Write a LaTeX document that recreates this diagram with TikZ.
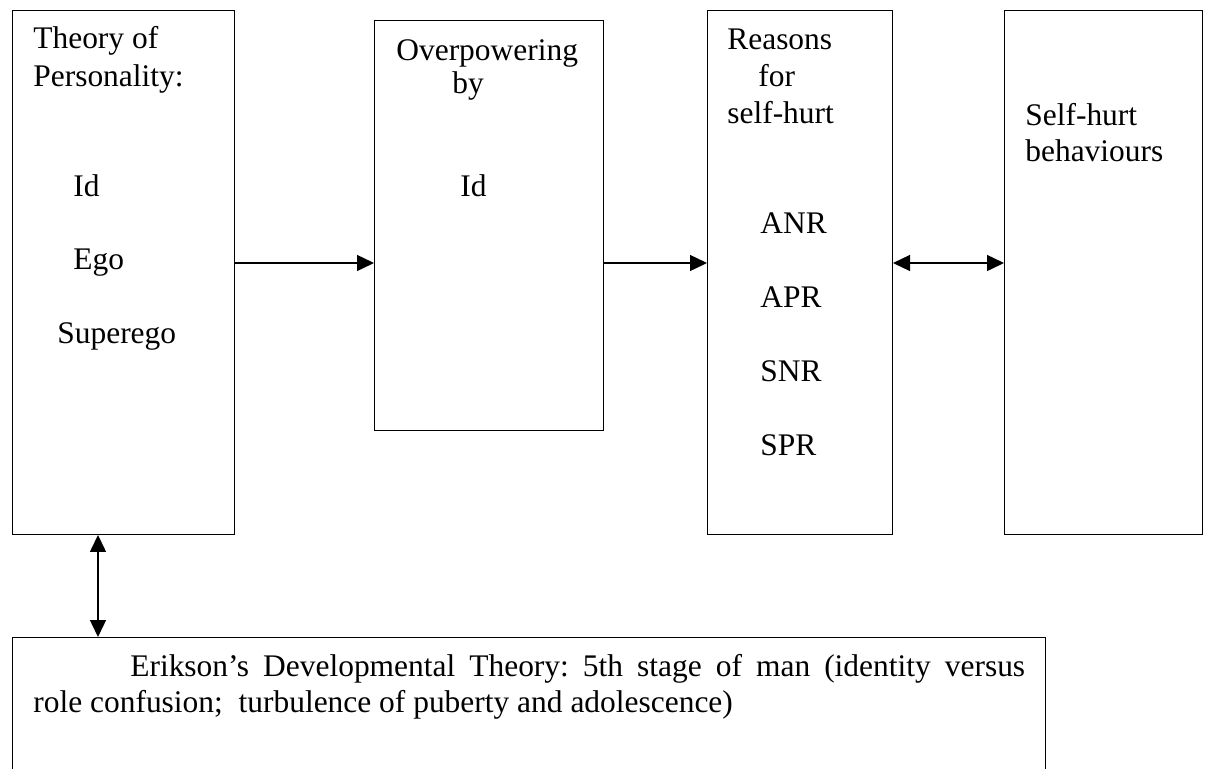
\documentclass[tikz,border=0pt]{standalone}
\usepackage{fontspec}
\setmainfont{Liberation Serif}
\usepackage{tikz}
\usetikzlibrary{arrows.meta}

\begin{document}
\begin{tikzpicture}[x=0.02cm, y=-0.02cm, box/.style={draw, rectangle, line width=0.6pt, inner sep=0pt, anchor=north west}, lbl/.style={anchor=base west, inner sep=0pt, font=\fontsize{17.9}{21}\selectfont}, link/.style={line width=0.8pt, -{Triangle[length=3.4mm, width=3.2mm]}}, both/.style={link, {Triangle[length=3.4mm, width=3.2mm]}-{Triangle[length=3.4mm, width=3.2mm]}}]
    \clip (0,0) rectangle (1210,768);
    % Boxes
    \node[box, minimum width=4.44cm, minimum height=10.48cm] (theory) at (12,10) {};
    \node[box, minimum width=4.58cm, minimum height=8.2cm] (over) at (374,20) {};
    \node[box, minimum width=3.7cm, minimum height=10.48cm] (reasons) at (707,10) {};
    \node[box, minimum width=3.96cm, minimum height=10.48cm] (behav) at (1004,10) {};
    \node[box, minimum width=20.66cm, minimum height=3.6cm] (erik) at (12,637) {};

    % Theory of Personality
    \node[lbl] (t1) at (33,48) {Theory of};
    \node[lbl] (t2) at (33,86) {Personality:};
    \node[lbl] (t3) at (73,196) {Id};
    \node[lbl] (t4) at (73,269) {Ego};
    \node[lbl] (t5) at (57,343) {Superego};

    % Overpowering
    \node[lbl] (o1) at (396,60) {Overpowering};
    \node[lbl] (o2) at (452,93) {by};
    \node[lbl] (o3) at (460,196) {Id};

    % Reasons
    \node[lbl] (r1) at (727,49) {Reasons};
    \node[lbl] (r2) at (758,86) {for};
    \node[lbl] (r3) at (727,123) {self-hurt};
    \node[lbl] (r4) at (760,233) {ANR};
    \node[lbl] (r5) at (760,307) {APR};
    \node[lbl] (r6) at (760,381) {SNR};
    \node[lbl] (r7) at (760,455) {SPR};

    % Behaviours
    \node[lbl] (b1) at (1025,125) {Self-hurt};
    \node[lbl] (b2) at (1025,161) {behaviours};

    % Erikson
    \node[lbl] (e1) at (33,676) {\parbox[t]{19.84cm}{\fontsize{17.9}{21}\selectfont\frenchspacing\hspace*{1.94cm}Erikson’s Developmental Theory: 5th stage of man (identity versus\linebreak role confusion;\ \ turbulence of puberty and adolescence)}};

    % Arrows
    \coordinate (ay) at (0,263);
    \coordinate (ax) at (98,0);
    \draw[link] (theory.east |- ay) -- (over.west |- ay);
    \draw[link] (over.east |- ay) -- (reasons.west |- ay);
    \draw[both] (reasons.east |- ay) -- (behav.west |- ay);
    \draw[both] (theory.south -| ax) -- (erik.north -| ax);
\end{tikzpicture}
\end{document}
